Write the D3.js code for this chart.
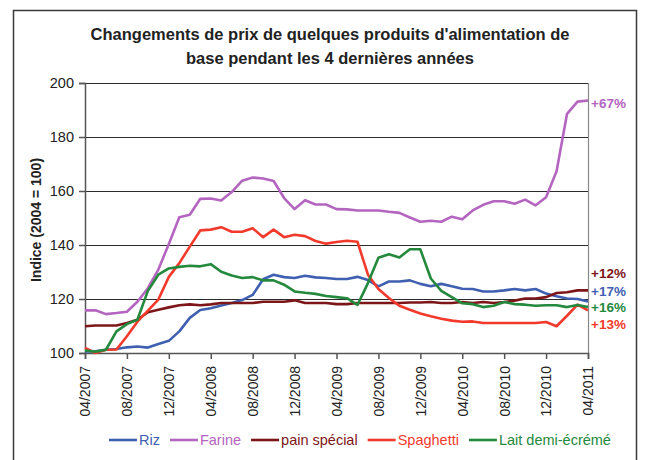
<!DOCTYPE html>
<html>
<head>
<meta charset="utf-8">
<script src="https://cdn.jsdelivr.net/npm/d3@7"></script>
<style>
  body { margin: 0; background: #fff; }
  svg { display: block; font-family: "Liberation Sans", Arial, sans-serif; }
</style>
</head>
<body>
<div id="chart"></div>
<script>
// monthly index: 0 = 04/2007 ... 48 = 04/2011
const tickLabels = ["04/2007", "08/2007", "12/2007", "04/2008", "08/2008", "12/2008",
  "04/2009", "08/2009", "12/2009", "04/2010", "08/2010", "12/2010", "04/2011"];

const riz = [100.6, 100.6, 101.2, 101.5, 102.1, 102.4, 102.0, 103.3, 104.5, 108.0,
  113.0, 115.9, 116.6, 117.6, 118.5, 119.6, 121.5, 127.3, 129.0, 128.1,
  127.8, 128.6, 128.0, 127.8, 127.4, 127.4, 128.2, 127.0, 124.7, 126.5,
  126.5, 126.9, 125.6, 124.7, 125.6, 124.7, 123.8, 123.7, 122.8, 122.8,
  123.2, 123.7, 123.2, 123.7, 122.0, 121.0, 120.2, 120.0, 119.1];

const farine = [115.8, 115.8, 114.4, 114.8, 115.3, 119.0, 124.0, 130.9, 140.4, 150.3,
  151.2, 157.1, 157.2, 156.5, 159.6, 163.8, 165.0, 164.6, 163.7, 157.4,
  153.3, 156.6, 155.0, 155.0, 153.3, 153.2, 152.8, 152.8, 152.8, 152.3,
  151.9, 150.2, 148.6, 149.0, 148.6, 150.5, 149.5, 152.8, 154.9, 156.2,
  156.2, 155.3, 156.8, 154.7, 157.7, 167.3, 188.6, 193.1, 193.5];

const pain = [109.9, 110.2, 110.2, 110.2, 111.1, 112.3, 115.1, 116.0, 116.9, 117.7,
  118.0, 117.7, 118.0, 118.5, 118.5, 118.5, 118.5, 119.0, 119.0, 119.0,
  119.5, 118.5, 118.5, 118.5, 118.1, 118.1, 118.5, 118.5, 118.5, 118.5,
  118.5, 118.7, 118.7, 118.9, 118.5, 118.5, 118.9, 118.5, 118.9, 118.5,
  118.9, 119.4, 120.2, 120.2, 120.7, 122.2, 122.5, 123.2, 123.2];

const spaghetti = [101.9, 100.0, 101.2, 101.3, 106.2, 111.6, 115.7, 119.8, 128.2, 133.3,
  139.4, 145.4, 145.7, 146.6, 144.9, 144.9, 146.2, 142.9, 145.7, 142.9,
  143.8, 143.3, 141.5, 140.5, 141.1, 141.6, 141.2, 129.0, 123.7, 120.4,
  117.5, 116.0, 114.6, 113.6, 112.7, 112.0, 111.6, 111.7, 111.1, 111.1,
  111.1, 111.1, 111.1, 111.1, 111.5, 109.9, 113.8, 117.9, 115.8];

const lait = [100.9, 100.5, 101.2, 108.0, 110.7, 112.3, 123.0, 129.0, 131.3, 131.9,
  132.3, 132.1, 132.9, 130.1, 128.7, 127.8, 128.1, 126.9, 126.9, 125.3,
  122.8, 122.3, 121.9, 121.1, 120.7, 120.3, 117.8, 125.9, 135.3, 136.6,
  135.4, 138.4, 138.4, 127.6, 123.0, 120.7, 118.4, 118.1, 117.0, 117.5,
  118.9, 118.1, 117.9, 117.5, 117.7, 117.7, 117.0, 117.8, 117.0];

const seriesNames = ["Riz", "Farine", "pain spécial", "Spaghetti", "Lait demi-écrémé"];
const seriesValues = [riz, farine, pain, spaghetti, lait];
const seriesColors = ["#3f5fb0", "#b465bf", "#7d1619", "#f23a2c", "#24893c"];

// end-of-line annotations (text, colour, vertical anchor in index units)
const endLabels = ["+67%", "+12%", "+17%", "+16%", "+13%"];
const endLabelColors = ["#b465bf", "#7d1619", "#3f5fb0", "#24893c", "#f23a2c"];
const endLabelAt = [192.5, 129.7, 123.0, 116.8, 110.7];

const W = 645, H = 460;
const margin = { top: 83, right: 57, bottom: 107, left: 85 };

const svg = d3.select("#chart").append("svg")
  .attr("width", W).attr("height", H);

svg.append("rect").attr("width", W).attr("height", H).attr("fill", "#fff");
// outer frame
svg.append("rect")
  .attr("x", 13.5).attr("y", 10.5).attr("width", 623).attr("height", 470)
  .attr("fill", "none").attr("stroke", "#3a3a3a").attr("stroke-width", 1.5);

const x = d3.scaleLinear().domain([0, 48]).range([margin.left, W - margin.right]);
const y = d3.scaleLinear().domain([100, 200]).range([H - margin.bottom, margin.top]);

// title
const title = svg.append("text").attr("text-anchor", "middle")
  .attr("font-weight", "bold").attr("font-size", 16.5).attr("fill", "#222");
title.append("tspan").attr("x", 330).attr("y", 40)
  .text("Changements de prix de quelques produits d'alimentation de");
title.append("tspan").attr("x", 330).attr("y", 64)
  .text("base pendant les 4 dernières années");

// gridlines
svg.append("g").selectAll("line").data([120, 140, 160, 180, 200]).join("line")
  .attr("x1", x(0)).attr("x2", x(48))
  .attr("y1", d => Math.round(y(d)) + 0.5).attr("y2", d => Math.round(y(d)) + 0.5)
  .attr("stroke", "#2b2b2b").attr("stroke-width", 1);

// right border of plot area
svg.append("line")
  .attr("x1", x(48) + 0.5).attr("x2", x(48) + 0.5)
  .attr("y1", y(200)).attr("y2", y(100))
  .attr("stroke", "#888").attr("stroke-width", 1.2);

// y axis
const yAxis = svg.append("g")
  .attr("transform", `translate(${x(0)},0)`)
  .call(d3.axisLeft(y).tickValues([100, 120, 140, 160, 180, 200]).tickSize(6).tickPadding(5));
yAxis.selectAll("text").attr("font-size", 14.5).attr("fill", "#222")
  .attr("font-family", "Liberation Sans, Arial, sans-serif");
yAxis.selectAll("line,path").attr("stroke", "#555").attr("stroke-width", 1.5);

// x axis
const xAxis = svg.append("g")
  .attr("transform", `translate(0,${y(100)})`)
  .call(d3.axisBottom(x).tickValues(d3.range(0, 49, 4))
    .tickFormat((d, i) => tickLabels[i]).tickSize(6).tickPadding(7));
xAxis.selectAll("line,path").attr("stroke", "#555").attr("stroke-width", 1.5);
xAxis.selectAll("text")
  .attr("font-size", 14).attr("fill", "#222")
  .attr("font-family", "Liberation Sans, Arial, sans-serif")
  .attr("transform", "rotate(-90)")
  .attr("text-anchor", "end")
  .attr("dy", "0.35em")
  .attr("x", -13).attr("y", 0);

// y title
svg.append("text")
  .attr("transform", `translate(36,${(y(100) + y(200)) / 2 + 2}) rotate(-90)`)
  .attr("text-anchor", "middle").attr("dy", "0.35em")
  .attr("font-weight", "bold").attr("font-size", 14).attr("fill", "#222")
  .text("Indice (2004 = 100)");

// lines
const line = d3.line().x((d, i) => x(i)).y(d => y(d));
svg.append("g").selectAll("path").data(seriesValues).join("path")
  .attr("d", line)
  .attr("fill", "none")
  .attr("stroke", (d, i) => seriesColors[i])
  .attr("stroke-width", 2.6)
  .attr("stroke-linejoin", "round");

// end labels
svg.append("g").selectAll("text").data(endLabels).join("text")
  .attr("x", x(48) + 3)
  .attr("y", (d, i) => y(endLabelAt[i]))
  .attr("dy", "0.35em")
  .attr("font-weight", "bold").attr("font-size", 13.5)
  .attr("fill", (d, i) => endLabelColors[i])
  .text(d => d);

// legend
const legend = svg.append("g").attr("transform", "translate(109,440)");
let lx = 0;
seriesNames.forEach((name, i) => {
  const g = legend.append("g").attr("transform", `translate(${lx},0)`);
  g.append("line").attr("x1", 0).attr("x2", 28).attr("y1", 0).attr("y2", 0)
    .attr("stroke", seriesColors[i]).attr("stroke-width", 2.6);
  const t = g.append("text").attr("x", 30).attr("dy", "0.35em")
    .attr("font-size", 14.5).attr("fill", seriesColors[i]).text(name);
  lx += 30 + t.node().getComputedTextLength() + 10;
});
</script>
</body>
</html>
